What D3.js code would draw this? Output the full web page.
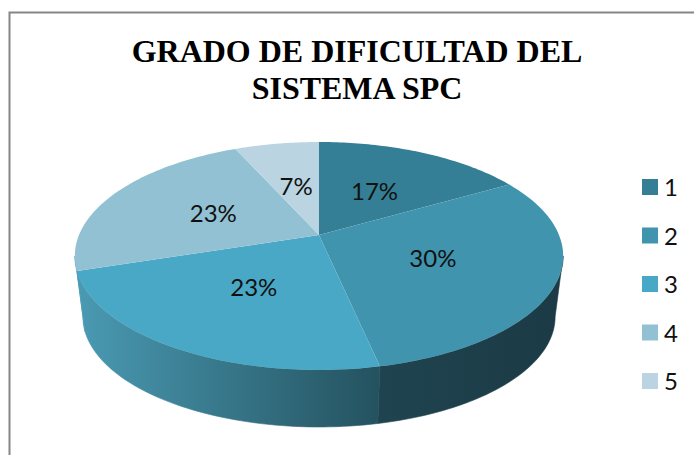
<!DOCTYPE html>
<html><head><meta charset="utf-8">
<script src="https://cdn.jsdelivr.net/npm/d3@7"></script>
<style>html,body{margin:0;padding:0;background:#fff;overflow:hidden}svg{display:block}</style>
</head><body><div id="chart"></div>
<script>
const categories = ["1", "2", "3", "4", "5"];
const values = [5, 9, 7, 7, 2];
const topColors = ["#347f95", "#4094ae", "#49a8c5", "#92c1d4", "#bad5e1"];
const wallFrom = ["#1c3c47", "#1f4450", "#4a9ab3", "#4a9ab3", "#1c3c47"];
const wallTo = ["#1c3c47", "#1b3a45", "#24525f", "#4a9ab3", "#1c3c47"];
const titleLines = ["GRADO DE DIFICULTAD DEL", "SISTEMA SPC"];

const W = 694, H = 455;
const svg = d3.select("#chart").append("svg").attr("width", W).attr("height", H);
const defs = svg.append("defs");

// Perspective disc: unit circle -> screen
const cx = 319, persp = 0.184, kx = 240, ky = 110.1;
const topY = 235, botY = 296.5, botScale = 0.967;
const sx = d3.scaleLinear().domain([0, 1]).range([cx, cx + kx]);
function project(a, r, level) {
  const u = r * Math.sin(a), v = r * Math.cos(a), d = 1 + persp * v;
  const s = level === "bottom" ? botScale : 1;
  const y0 = level === "bottom" ? botY : topY;
  return [cx + (sx(u / d) - cx) * s, y0 - ky * s * v / d];
}
const line = d3.line();
const arcPts = (a0, a1, level) => d3.range(0, 61).map(i => project(a0 + (a1 - a0) * i / 60, 1, level));

const arcs = d3.pie().sort(null).value(d => d)(values);

// Front-facing range of the wall, between the two silhouette points
const frontStart = Math.PI - Math.asin(Math.sqrt(1 - persp * persp));
const frontEnd = 2 * Math.PI - frontStart;

// frame
svg.append("path").attr("d", `M9.5,${H} V12.5 H${W}`).attr("fill", "none").attr("stroke", "#868686").attr("stroke-width", 2);

// walls
const walls = svg.append("g");
arcs.forEach((d, i) => {
  const a0 = Math.max(d.startAngle, frontStart), a1 = Math.min(d.endAngle, frontEnd);
  if (a1 <= a0) return;
  const t = arcPts(a0, a1, "top"), b = arcPts(a0, a1, "bottom");
  const x0 = Math.min(t[0][0], t[60][0]), x1 = Math.max(t[0][0], t[60][0]);
  // gradient runs left to right on screen
  const g = defs.append("linearGradient").attr("id", "w" + i)
    .attr("gradientUnits", "userSpaceOnUse").attr("x1", x0).attr("x2", x1).attr("y1", 0).attr("y2", 0);
  g.append("stop").attr("offset", 0).attr("stop-color", wallFrom[i]);
  g.append("stop").attr("offset", 1).attr("stop-color", wallTo[i]);
  walls.append("path").attr("d", line(t.concat(b.reverse())) + "Z")
    .attr("fill", `url(#w${i})`).attr("stroke", `url(#w${i})`).attr("stroke-width", 0.6);
});

// top face
svg.append("g").selectAll("path").data(arcs).join("path")
  .attr("d", d => line([project(0, 0, "top")].concat(arcPts(d.startAngle, d.endAngle, "top"))) + "Z")
  .attr("fill", (d, i) => topColors[i]);

// data labels
const total = d3.sum(values), pct = d3.format(".0%");
svg.append("g").selectAll("text").data(arcs).join("text")
  .attr("x", d => project((d.startAngle + d.endAngle) / 2, 0.5, "top")[0])
  .attr("y", d => project((d.startAngle + d.endAngle) / 2, 0.5, "top")[1] + 9)
  .attr("text-anchor", "middle").attr("font-family", "Lato").attr("font-size", 24).attr("fill", "#111")
  .text(d => pct(d.data / total));

// title
svg.append("g").selectAll("text").data(titleLines).join("text")
  .attr("x", 357).attr("y", (d, i) => 62 + i * 37).attr("text-anchor", "middle")
  .attr("font-family", "Liberation Serif").attr("font-weight", "bold").attr("font-size", 32).attr("fill", "#000")
  .text(d => d);

// legend
const ly = d3.scalePoint().domain(categories).range([187, 381]);
const lg = svg.append("g").selectAll("g").data(categories).join("g")
  .attr("transform", d => `translate(642,${ly(d)})`);
lg.append("rect").attr("x", 0).attr("y", -8).attr("width", 16).attr("height", 16)
  .attr("fill", (d, i) => topColors[i]);
lg.append("text").attr("x", 22).attr("y", 9).attr("font-family", "Lato").attr("font-size", 24).attr("fill", "#111").text(d => d);
</script></body></html>
